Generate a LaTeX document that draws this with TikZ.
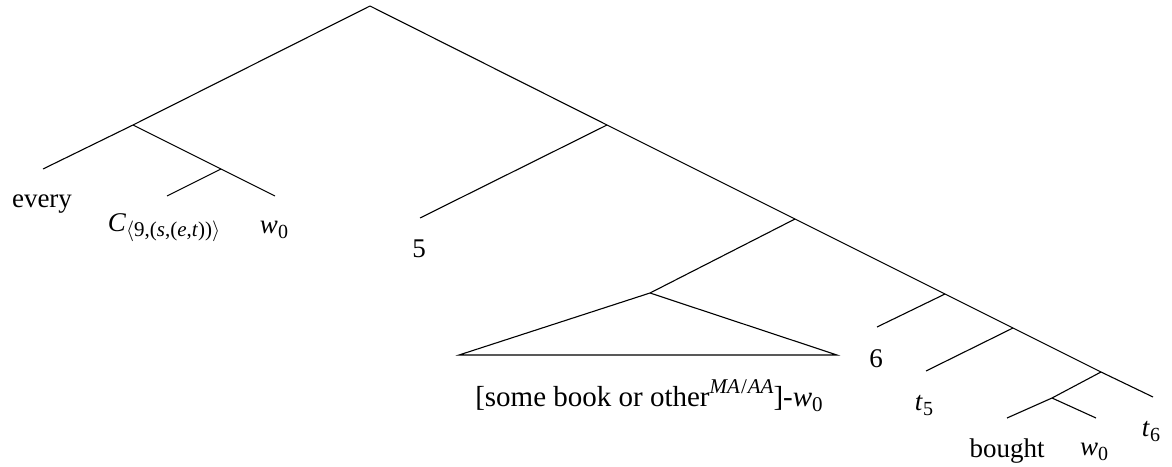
\documentclass[tikz,border=0pt]{standalone}
\usepackage{fontspec}
\setmainfont{Liberation Serif}
\newcommand{\mysub}[2][20]{\raisebox{-0.2em}{\fontsize{#1}{#1}\selectfont #2}}
\newcommand{\mysup}[2][20]{\raisebox{0.42em}{\fontsize{#1}{#1}\selectfont #2}}
\begin{document}
\begin{tikzpicture}[x=1pt,y=-1pt,
  lbl/.style={font=\fontsize{27}{32}\selectfont, inner sep=0pt, anchor=base},
  edge/.style={line width=1.1pt}]
\useasboundingbox (0,0) rectangle (1172,466);
% tree points
\coordinate (root) at (370,6);
\coordinate (a) at (133,125);
\coordinate (leveryleaf) at (43,169);
\coordinate (b) at (221,169);
\coordinate (lcleaf) at (167,196);
\coordinate (lwleaf) at (275,196);
\coordinate (c) at (607,125);
\coordinate (fiveleaf) at (420,218);
\coordinate (d) at (795,219);
\coordinate (tri) at (650,293);
\coordinate (triL) at (459,355);
\coordinate (triR) at (837,355);
\coordinate (e) at (945,294);
\coordinate (sixleaf) at (877,327);
\coordinate (f) at (1013,328);
\coordinate (tfiveleaf) at (926,371);
\coordinate (g) at (1101,372);
\coordinate (h) at (1052,398);
\coordinate (boughtleaf) at (1007,418);
\coordinate (wtwoleaf) at (1096,418);
\coordinate (tsixleaf) at (1153,397);
% edges
\draw[edge] (root) -- (a) -- (leveryleaf);
\draw[edge] (a) -- (b) -- (lwleaf);
\draw[edge] (b) -- (lcleaf);
\draw[edge] (root) -- (c) -- (d) -- (e) -- (f) -- (g) -- (tsixleaf);
\draw[edge] (c) -- (fiveleaf);
\draw[edge] (d) -- (tri);
\draw[edge] (tri) -- (triL) -- (triR) -- cycle;
\draw[edge] (e) -- (sixleaf);
\draw[edge] (f) -- (tfiveleaf);
\draw[edge] (g) -- (h) -- (boughtleaf);
\draw[edge] (h) -- (wtwoleaf);
% labels
\node[lbl] (every) at (42,207) {every};
\node[lbl] (cnode) at (164,231) {\textit{C}\mysub[21]{$\langle$9,(\textit{s},(\textit{e},\textit{t}))$\rangle$}};
\node[lbl] (wzero) at (274,233) {\textit{w}\mysub{0}};
\node[lbl] (five) at (419,257) {5};
\node[lbl, font=\fontsize{29}{34}\selectfont] (book) at (649,406) {[some book or other\mysup[21]{\textit{MA}\kern1pt/\kern1pt\textit{AA}}]-\textit{w}\mysub[21]{0}};
\node[lbl] (six) at (876,367) {6};
\node[lbl] (tfive) at (924,410) {\textit{t}\mysub{5}};
\node[lbl] (bought) at (1007,457) {bought};
\node[lbl] (wtwo) at (1094,455) {\textit{w}\mysub{0}};
\node[lbl] (tsix) at (1151,436) {\textit{t}\mysub{6}};
\end{tikzpicture}
\end{document}
